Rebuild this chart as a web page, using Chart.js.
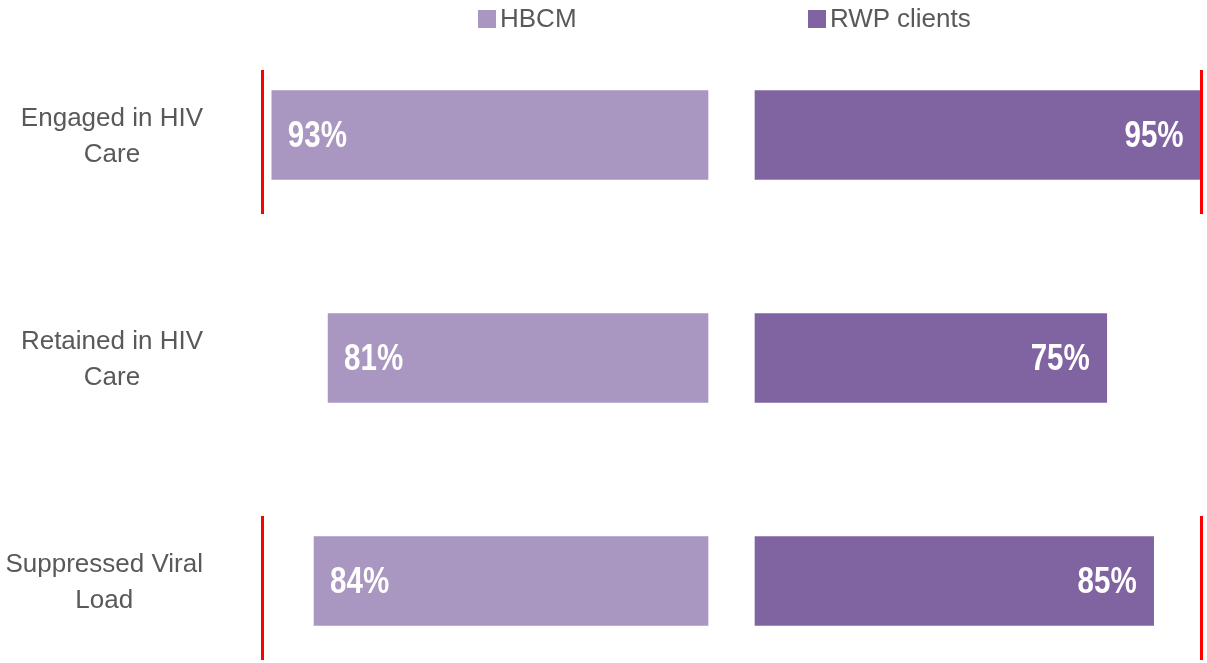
<!DOCTYPE html>
<html>
<head>
<meta charset="utf-8">
<script src="https://cdn.jsdelivr.net/npm/chart.js@4.4.1/dist/chart.umd.min.js"></script>
<style>
    html, body { margin: 0; padding: 0; background: #fff; overflow: hidden; }
    #wrap { position: relative; width: 1207px; height: 663px; overflow: hidden; font-family: "Liberation Sans", Arial, sans-serif; }
    #left-chart { position: absolute; left: 0; top: 0; }
    #right-chart { position: absolute; left: 730px; top: 0; }
    .legend-item { position: absolute; top: 3px; font-size: 26px; line-height: 30px; color: #595959; white-space: nowrap; }
    .legend-item .box { display: inline-block; width: 18px; height: 18px; margin-right: 4px; vertical-align: -1px; }
</style>
</head>
<body>
<div id="wrap">
    <canvas id="left-chart" width="730" height="663"></canvas>
    <canvas id="right-chart" width="520" height="663"></canvas>
    <div id="legend"></div>
</div>
<script>
// chart data
const categories = [['Engaged in HIV', 'Care'], ['Retained in HIV', 'Care'], ['Suppressed Viral', 'Load']];
const seriesNames = ['HBCM', 'RWP clients'];
const hbcmValues = [93, 81, 84];
const rwpValues = [95, 75, 85];
const hbcmTargets = [95, null, 95];
const rwpTargets = [95, null, 95];
const axisMax = 100;

const colors = ['#a996c1', '#8064a2'];
const labelFont = '"Liberation Sans", Arial, sans-serif';

// white % labels inside the bars, near the outer end (squeezed to look like a narrow face)
const barLabels = {
    id: 'barLabels',
    afterDatasetsDraw(chart, args, opts) {
        const ctx = chart.ctx;
        const meta = chart.getDatasetMeta(0);
        const values = chart.data.datasets[0].data;
        meta.data.forEach((bar, i) => {
            const x = opts.side === 'left' ? bar.x + 16 : bar.x - 17;
            ctx.save();
            ctx.fillStyle = '#ffffff';
            ctx.font = 'bold 36px ' + labelFont;
            ctx.textBaseline = 'middle';
            ctx.textAlign = opts.side === 'left' ? 'left' : 'right';
            ctx.translate(x, bar.y + 2);
            ctx.scale(0.82, 1);
            ctx.fillText(values[i] + '%', 0, 0);
            ctx.restore();
        });
    }
};

// red target markers
const targetLines = {
    id: 'targetLines',
    afterDatasetsDraw(chart, args, opts) {
        const ctx = chart.ctx;
        const xs = chart.scales.x;
        const ys = chart.scales.y;
        ctx.save();
        ctx.strokeStyle = '#ff0000';
        ctx.lineWidth = 3;
        (opts.values || []).forEach((v, i) => {
            if (v == null) return;
            const x = Math.round(xs.getPixelForValue(v)) + 0.5;
            const y = ys.getPixelForValue(i);
            ctx.beginPath();
            ctx.moveTo(x, y - 65);
            ctx.lineTo(x, y + 79);
            ctx.stroke();
        });
        ctx.restore();
    }
};

// category names: each block right-aligned, its lines centred on one another
const categoryNames = {
    id: 'categoryNames',
    afterDraw(chart, args, opts) {
        if (!opts.draw) return;
        const ctx = chart.ctx;
        const ys = chart.scales.y;
        const right = chart.chartArea.left - 36;
        ctx.save();
        ctx.fillStyle = '#595959';
        ctx.font = '26px ' + labelFont;
        ctx.textAlign = 'center';
        ctx.textBaseline = 'alphabetic';
        chart.data.labels.forEach((lines, i) => {
            const widest = Math.max(...lines.map(l => ctx.measureText(l).width));
            const cx = right - widest / 2;
            const y = ys.getPixelForValue(i);
            lines.forEach((line, j) => {
                ctx.fillText(line, cx, y - 9 + j * 36);
            });
        });
        ctx.restore();
    }
};

function baseOptions() {
    return {
        indexAxis: 'y',
        responsive: false,
        animation: false,
        plugins: {
            legend: { display: false },
            tooltip: { enabled: false }
        }
    };
}

// left side: HBCM, growing to the left
const leftOptions = baseOptions();
leftOptions.layout = { padding: { top: 135, bottom: 82, left: 239, right: 22 } };
leftOptions.scales = {
    x: { type: 'linear', reverse: true, min: 0, max: axisMax, display: false },
    y: { offset: false, display: false }
};
leftOptions.plugins.barLabels = { side: 'left' };
leftOptions.plugins.targetLines = { values: hbcmTargets };
leftOptions.plugins.categoryNames = { draw: true };

new Chart(document.getElementById('left-chart'), {
    type: 'bar',
    data: {
        labels: categories,
        datasets: [{
            label: seriesNames[0],
            data: hbcmValues,
            backgroundColor: colors[0],
            barThickness: 89,
            clip: false
        }]
    },
    options: leftOptions,
    plugins: [barLabels, targetLines, categoryNames]
});

// right side: RWP clients, growing to the right
const rightOptions = baseOptions();
rightOptions.layout = { padding: { top: 135, bottom: 82, left: 25, right: 26 } };
rightOptions.scales = {
    x: { type: 'linear', min: 0, max: axisMax, display: false },
    y: { offset: false, display: false }
};
rightOptions.plugins.barLabels = { side: 'right' };
rightOptions.plugins.targetLines = { values: rwpTargets };

new Chart(document.getElementById('right-chart'), {
    type: 'bar',
    data: {
        labels: categories,
        datasets: [{
            label: seriesNames[1],
            data: rwpValues,
            backgroundColor: colors[1],
            barThickness: 89,
            clip: false
        }]
    },
    options: rightOptions,
    plugins: [barLabels, targetLines]
});

// legend
const legendLeft = [478, 808];
const legend = document.getElementById('legend');
seriesNames.forEach((name, i) => {
    const item = document.createElement('div');
    item.className = 'legend-item';
    item.style.left = legendLeft[i] + 'px';
    item.innerHTML = `<span class="box" style="background:${colors[i]}"></span>${name}`;
    legend.appendChild(item);
});
</script>
</body>
</html>
